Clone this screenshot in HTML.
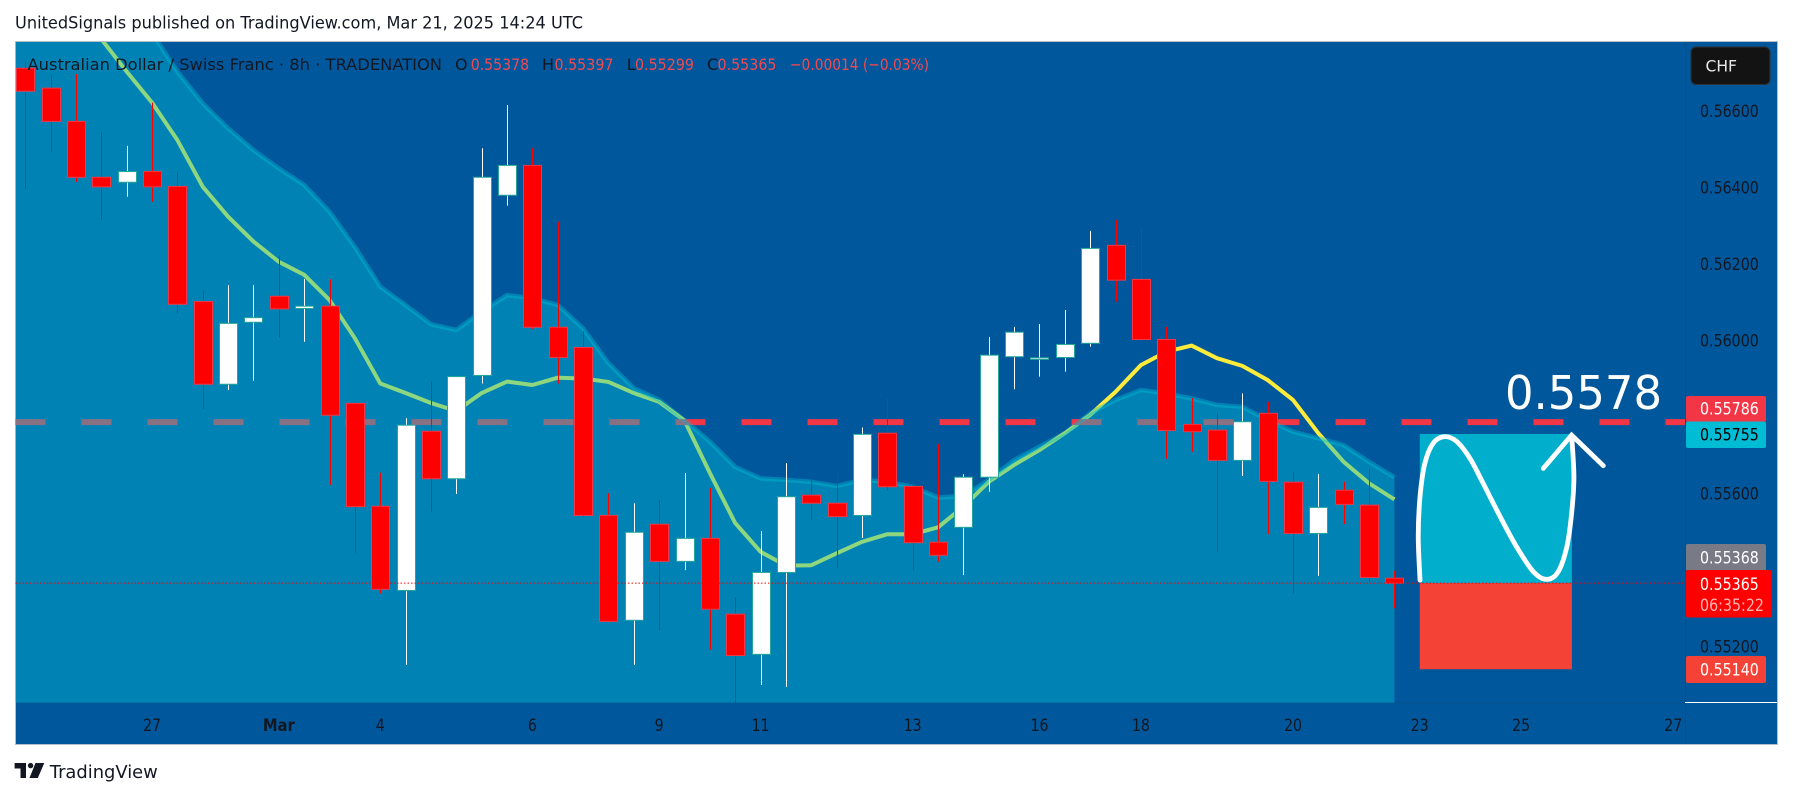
<!DOCTYPE html>
<html lang="en">
<head>
<meta charset="utf-8">
<title>AUD/CHF 8h chart</title>
<style>
html,body{margin:0;padding:0;background:#fff;}
svg{display:block;}
text{font-family:"DejaVu Sans","Liberation Sans",sans-serif;}
</style>
</head>
<body>
<svg id="chart" xmlns="http://www.w3.org/2000/svg" width="1793" height="798" viewBox="0 0 1793 798">
  <defs>
    <clipPath id="plot-clip"><rect x="15.5" y="42" width="1669.5" height="660.7"/></clipPath>
  </defs>
  <rect x="0" y="0" width="1793" height="798" fill="#ffffff"/>
  <text x="15" y="28.5" font-size="16.5" fill="#131722" textLength="568" lengthAdjust="spacingAndGlyphs">UnitedSignals published on TradingView.com, Mar 21, 2025 14:24 UTC</text>
  <rect x="15.5" y="41.5" width="1762" height="703" fill="#01579b" stroke="#b4bfca" stroke-width="1"/>
  <g id="plot" clip-path="url(#plot-clip)"></g>
  <g id="overlay"></g>

  <line x1="1685.5" y1="42" x2="1685.5" y2="744" stroke="#02508e" stroke-width="1"/>
  <line x1="1394" y1="703" x2="1685" y2="703" stroke="#02508e" stroke-width="1"/>
  <line x1="1685" y1="702.5" x2="1777" y2="702.5" stroke="#ffffff" stroke-width="1"/>

  <g font-size="16">
    <text x="27.5" y="70" fill="#131722" textLength="414.5" lengthAdjust="spacingAndGlyphs">Australian Dollar / Swiss Franc · 8h · TRADENATION</text>
    <text x="455" y="70" fill="#131722">O</text>
    <text x="470.7" y="70" fill="#f5484f" textLength="58.5" lengthAdjust="spacingAndGlyphs">0.55378</text>
    <text x="542" y="70" fill="#131722">H</text>
    <text x="554.5" y="70" fill="#f5484f" textLength="59" lengthAdjust="spacingAndGlyphs">0.55397</text>
    <text x="626.8" y="70" fill="#131722">L</text>
    <text x="635" y="70" fill="#f5484f" textLength="59" lengthAdjust="spacingAndGlyphs">0.55299</text>
    <text x="707" y="70" fill="#131722">C</text>
    <text x="717.5" y="70" fill="#f5484f" textLength="59" lengthAdjust="spacingAndGlyphs">0.55365</text>
    <text x="790" y="70" fill="#f5484f" textLength="139" lengthAdjust="spacingAndGlyphs">−0.00014 (−0.03%)</text>
  </g>

  <g id="price-axis" font-size="16.5" fill="#131722"></g>
  <g id="time-axis" font-size="16.5" fill="#131722"></g>

  <g>
    <rect x="1691" y="47" width="79" height="37.5" rx="5" fill="#131313" stroke="#2e3136" stroke-width="1"/>
    <text x="1705.5" y="71.5" font-size="16" fill="#e8e8e8" textLength="31.5" lengthAdjust="spacingAndGlyphs">CHF</text>
  </g>

  <g font-size="17">
    <rect x="1686" y="396" width="80" height="26" rx="2" fill="#f23645"/>
    <text x="1700" y="414.5" fill="#ffffff" textLength="58.8" lengthAdjust="spacingAndGlyphs">0.55786</text>
    <rect x="1686" y="421.5" width="80" height="26.5" rx="2" fill="#00bcd4"/>
    <text x="1700" y="440.5" fill="#000000" textLength="58.8" lengthAdjust="spacingAndGlyphs">0.55755</text>
    <rect x="1686" y="544" width="80" height="27" rx="2" fill="#787b86"/>
    <text x="1700" y="563.5" fill="#ffffff" textLength="58.8" lengthAdjust="spacingAndGlyphs">0.55368</text>
    <rect x="1686" y="570" width="85.5" height="47.5" rx="2" fill="#ff0000"/>
    <text x="1700" y="590" fill="#ffffff" textLength="58.8" lengthAdjust="spacingAndGlyphs">0.55365</text>
    <text x="1700" y="611" fill="#ffb3b3" textLength="64" lengthAdjust="spacingAndGlyphs">06:35:22</text>
    <rect x="1686" y="656" width="80" height="27" rx="2" fill="#f44336"/>
    <text x="1700" y="675.7" fill="#ffffff" textLength="58.8" lengthAdjust="spacingAndGlyphs">0.55140</text>
  </g>

  <g>
    <path d="M14.6 763H26V778H20.5V768.5H14.6Z" fill="#131722"/>
    <circle cx="30.6" cy="765.6" r="2.7" fill="#131722"/>
    <path d="M35.5 763H44.3L37.8 778H29.5Z" fill="#131722"/>
    <text x="49.8" y="778" font-size="18" fill="#131722" textLength="108" lengthAdjust="spacingAndGlyphs">TradingView</text>
  </g>
</svg>
<script>
const opens  = [0.56711,0.56659,0.56572,0.56426,0.56413,0.56441,0.56402,0.56101,0.55885,0.56047,0.56115,0.56083,0.56089,0.55835,0.55566,0.55346,0.55762,0.55638,0.55908,0.56379,0.56457,0.56034,0.55981,0.55542,0.55268,0.55519,0.55422,0.55482,0.55284,0.55179,0.55393,0.55595,0.55574,0.55542,0.55757,0.55618,0.55472,0.55511,0.55642,0.55957,0.55950,0.55955,0.55992,0.56248,0.56159,0.56002,0.55780,0.55765,0.55686,0.55809,0.55629,0.55495,0.55608,0.55569,0.55378];
const highs  = [0.56728,0.56693,0.56696,0.56545,0.56508,0.56621,0.56441,0.56131,0.56144,0.56144,0.56222,0.56160,0.56159,0.55838,0.55654,0.55796,0.55893,0.55906,0.56502,0.56615,0.56502,0.56310,0.56024,0.55600,0.55574,0.55583,0.55653,0.55614,0.55329,0.55501,0.55679,0.55642,0.55652,0.55772,0.55848,0.55632,0.55729,0.55650,0.56008,0.56035,0.56042,0.56079,0.56286,0.56315,0.56291,0.56035,0.55849,0.55809,0.55861,0.55839,0.55656,0.55650,0.55630,0.55663,0.55397];
const lows   = [0.56395,0.56493,0.56414,0.56314,0.56375,0.56362,0.56070,0.55820,0.55870,0.55894,0.56007,0.55996,0.55622,0.55445,0.55338,0.55151,0.55552,0.55598,0.55887,0.56352,0.56029,0.55887,0.55538,0.55265,0.55151,0.55241,0.55399,0.55191,0.55053,0.55099,0.55094,0.55530,0.55405,0.55483,0.55606,0.55399,0.55421,0.55386,0.55604,0.55872,0.55905,0.55918,0.55983,0.56101,0.55996,0.55690,0.55709,0.55447,0.55645,0.55493,0.55338,0.55384,0.55520,0.55368,0.55299];
const closes = [0.56651,0.56572,0.56426,0.56401,0.56441,0.56401,0.56094,0.55885,0.56044,0.56059,0.56082,0.56089,0.55804,0.55565,0.55349,0.55778,0.55638,0.55905,0.56426,0.56457,0.56034,0.55955,0.55542,0.55265,0.55498,0.55422,0.55482,0.55297,0.55176,0.55393,0.55591,0.55574,0.55539,0.55754,0.55617,0.55471,0.55438,0.55642,0.55961,0.56021,0.55954,0.55989,0.56240,0.56157,0.56002,0.55764,0.55761,0.55686,0.55787,0.55631,0.55495,0.55563,0.55571,0.55380,0.55365];
const maStartBar = 3;
const maValues = [0.56787,0.56702,0.56621,0.56523,0.56401,0.56323,0.56258,0.56205,0.56171,0.56105,0.56005,0.55887,0.55862,0.55836,0.55815,0.55862,0.55892,0.55883,0.55902,0.55900,0.55891,0.55862,0.55839,0.55790,0.55653,0.55522,0.55447,0.55411,0.55412,0.55443,0.55473,0.55493,0.55493,0.55511,0.55565,0.55630,0.55674,0.55713,0.55757,0.55805,0.55865,0.55935,0.55970,0.55986,0.55953,0.55933,0.55896,0.55844,0.55757,0.55682,0.55626,0.55584];
const bandValues = [0.57151,0.57072,0.56994,0.56929,0.56863,0.56803,0.56702,0.56619,0.56554,0.56497,0.56449,0.56406,0.56336,0.56244,0.56140,0.56092,0.56042,0.56027,0.56075,0.56118,0.56110,0.56092,0.56031,0.55940,0.55875,0.55844,0.55791,0.55735,0.55669,0.55639,0.55635,0.55630,0.55619,0.55635,0.55630,0.55617,0.55589,0.55593,0.55635,0.55687,0.55722,0.55757,0.55809,0.55844,0.55870,0.55861,0.55848,0.55831,0.55826,0.55791,0.55761,0.55744,0.55726,0.55682,0.55642];
const priceTicks = [0.566,0.564,0.562,0.56,0.556,0.552];
const priceTickLabels = ['0.56600','0.56400','0.56200','0.56000','0.55600','0.55200'];
const timeTickBars = [5,10,14,20,25,29,35,40,44,50,55,59,65];
const timeTickLabels = ['27','Mar','4','6','9','11','13','16','18','20','23','25','27'];
const resistancePrice = 0.55786;
const targetPrice = 0.55755;
const entryPrice = 0.55365;
const stopPrice = 0.5514;
const boxBars = [55,61];
const waveBars = [55.01,54.94,55.01,55.20,55.53,55.99,56.46,56.98,57.50,58.17,58.82,59.48,60.01,60.46,60.80,60.99,61.08,60.99];
const wavePrices = [0.55373,0.55486,0.55591,0.55678,0.55731,0.55748,0.55735,0.55691,0.55626,0.55539,0.55460,0.55395,0.55375,0.55395,0.55460,0.55548,0.55643,0.55752];
const arrowBars = [59.87,60.99,62.24];
const arrowPrices = [0.55665,0.55752,0.55672];
const forecastLabel = '0.5578';

const NS = 'http://www.w3.org/2000/svg';
const plotBottom = 702.7;
const plotLeft = 15.5;
const plotRight = 1685;
function xScale(bar){ return 25.3 + 25.354 * bar; }
function yScale(price){ return 110.7 + (0.566 - price) * 38257; }
function make(tag, attrs, parent){
  const el = document.createElementNS(NS, tag);
  for (const k in attrs) el.setAttribute(k, attrs[k]);
  parent.appendChild(el);
  return el;
}
function linePath(bars, prices){
  return prices.map(function(p, i){
    return (i ? 'L' : 'M') + xScale(bars[i]).toFixed(2) + ' ' + yScale(p).toFixed(2);
  }).join(' ');
}
function smoothPath(bars, prices){
  const pts = prices.map(function(p, i){ return [xScale(bars[i]), yScale(p)]; });
  let d = 'M' + pts[0][0].toFixed(2) + ' ' + pts[0][1].toFixed(2);
  for (let i = 0; i < pts.length - 1; i++){
    const p0 = pts[Math.max(i - 1, 0)], p1 = pts[i], p2 = pts[i + 1], p3 = pts[Math.min(i + 2, pts.length - 1)];
    const c1x = p1[0] + (p2[0] - p0[0]) / 6, c1y = p1[1] + (p2[1] - p0[1]) / 6;
    const c2x = p2[0] - (p3[0] - p1[0]) / 6, c2y = p2[1] - (p3[1] - p1[1]) / 6;
    d += ' C' + c1x.toFixed(2) + ' ' + c1y.toFixed(2) + ' ' + c2x.toFixed(2) + ' ' + c2y.toFixed(2) + ' ' + p2[0].toFixed(2) + ' ' + p2[1].toFixed(2);
  }
  return d;
}

const plot = document.getElementById('plot');
const overlay = document.getElementById('overlay');
const priceAxis = document.getElementById('price-axis');
const timeAxis = document.getElementById('time-axis');

/* moving average sits beneath the translucent band, which tints it green */
const maBars = maValues.map(function(_, i){ return i + maStartBar; });
const maLine = make('path', {d: linePath(maBars, maValues), fill: 'none', stroke: '#ffeb3b', 'stroke-width': 4, 'stroke-linejoin': 'round'}, plot);



const resistanceLine = make('line', {x1: plotLeft, x2: plotRight, y1: yScale(resistancePrice), y2: yScale(resistancePrice), stroke: '#f23645', 'stroke-width': 6, 'stroke-dasharray': '30 36'}, plot);



const bandBars = bandValues.map(function(_, i){ return i; });
const bandTop = linePath(bandBars, bandValues);
const areaD = 'M' + plotLeft + ' ' + plotBottom + ' L' + plotLeft + ' ' + yScale(bandValues[0]).toFixed(2) + ' ' + bandTop.replace(/^M/, 'L') + ' L' + xScale(bandValues.length - 1).toFixed(2) + ' ' + plotBottom + ' Z';
const bandArea = make('path', {d: areaD, fill: '#00bcd4', 'fill-opacity': 0.44}, plot);


const bandEdge = make('path', {d: bandTop, fill: 'none', stroke: '#00bcd4', 'stroke-opacity': 0.42, 'stroke-width': 4.5, 'stroke-linejoin': 'round'}, plot);



/* candles */
closes.forEach(function(close, i){
  const open = opens[i];
  const up = close >= open;
  const cx = Math.round(xScale(i)) + 0.5;
  const g = make('g', {}, plot);
  
  
  const wick = make('line', {x1: cx, x2: cx, y1: yScale(highs[i]), y2: yScale(lows[i]), stroke: up ? '#ffffff' : '#ff0000', 'stroke-width': 1}, g);
  
  
  const top = yScale(Math.max(open, close));
  const h = Math.max(yScale(Math.min(open, close)) - top, 1.5);
  const body = make('rect', {x: cx - 9, y: top, width: 18, height: h, fill: up ? '#ffffff' : '#ff0000', stroke: up ? '#26a69a' : '#f23645', 'stroke-width': 1}, g);
  
  
});

/* trade idea box */
const boxLeft = xScale(boxBars[0]);
const boxWidth = xScale(boxBars[1]) - boxLeft;
const targetBox = make('rect', {x: boxLeft, y: yScale(targetPrice), width: boxWidth, height: yScale(entryPrice) - yScale(targetPrice), fill: '#01aecb'}, overlay);


const stopBox = make('rect', {x: boxLeft, y: yScale(entryPrice), width: boxWidth, height: yScale(stopPrice) - yScale(entryPrice), fill: '#f44336'}, overlay);



const priceLine = make('line', {x1: plotLeft, x2: plotRight, y1: yScale(entryPrice), y2: yScale(entryPrice), stroke: '#ff0000', 'stroke-width': 1, 'stroke-dasharray': '1.5 2'}, overlay);



const wave = make('path', {d: smoothPath(waveBars, wavePrices), fill: 'none', stroke: '#ffffff', 'stroke-width': 4.8, 'stroke-linecap': 'round', 'stroke-linejoin': 'round'}, overlay);


const arrow = make('path', {d: linePath(arrowBars, arrowPrices), fill: 'none', stroke: '#ffffff', 'stroke-width': 4.8, 'stroke-linecap': 'round', 'stroke-linejoin': 'miter'}, overlay);



const forecast = make('text', {x: 1505, y: 409, 'font-size': 46, fill: '#ffffff', textLength: 157, lengthAdjust: 'spacingAndGlyphs'}, overlay);


forecast.textContent = forecastLabel;

/* axes */
priceTicks.forEach(function(p, i){
  const t = make('text', {x: 1700, y: yScale(p) + 6.2, textLength: 58.8, lengthAdjust: 'spacingAndGlyphs'}, priceAxis);
  
  
  t.textContent = priceTickLabels[i];
});
timeTickBars.forEach(function(b, i){
  const label = timeTickLabels[i];
  const isMonth = isNaN(Number(label));
  const w = isMonth ? 32 : label.length * 9;
  const t = make('text', {x: xScale(b) - w / 2, y: 731, textLength: w, lengthAdjust: 'spacingAndGlyphs', 'font-weight': isMonth ? 'bold' : 'normal'}, timeAxis);
  
  
  t.textContent = label;
});
</script>
</body>
</html>
